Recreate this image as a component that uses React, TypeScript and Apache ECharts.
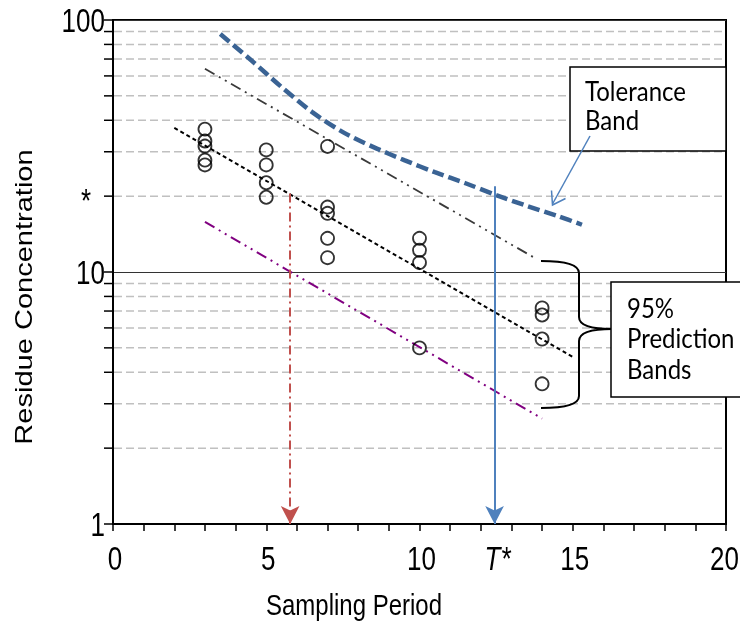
import React, { useEffect, useRef } from 'react';
import * as echarts from 'echarts';

// ---- data ----
const obsX = [3, 3, 3, 3, 3, 5, 5, 5, 5, 7, 7, 7, 7, 7, 10, 10, 10, 10, 14, 14, 14, 14];
const obsY = [36.9, 33.1, 31.6, 27.8, 26.6, 30.5, 26.6, 22.6, 19.8, 31.5, 18.1, 17.1, 13.6, 11.4, 13.6, 12.2, 10.9, 5.0, 7.2, 6.75, 5.42, 3.6];

const regX = [2, 15];
const regY = [37.3, 4.6];

const upperPIX = [3, 13.8];
const upperPIY = [64, 11.3];

const lowerPIX = [3, 14];
const lowerPIY = [15.8, 2.62];

const tolX = [3.5, 4.5, 5.5, 6.5, 7.5, 8.5, 9.5, 10.5, 11.5, 12.5, 13.5, 14.5, 15.3];
const tolY = [88.0, 69.4, 54.2, 43.1, 35.9, 31.3, 27.8, 24.9, 22.5, 20.2, 18.3, 16.7, 15.4];

const targetLevel = 20; // "*"
const redArrowX = 5.78;
const redArrowTop = 20.5;
const blueArrowX = 12.45; // T*
const blueArrowTop = 21.9;

const xLabelTicks = [0, 5, 10, 15, 20];
const yLabelTicks = [1, 10, 100];
const minorY = [2, 3, 4, 5, 6, 7, 8, 9, 20, 30, 40, 50, 60, 70, 80, 90];

echarts.graphic.registerShape(
  'brace',
  echarts.graphic.extendPath(
    'M0,0 Q38,0 38,12 L38,56 Q38,68 71,68 Q38,68 38,80 L38,135 Q38,147 0,147',
    {}
  )
);

const FONT = '"Liberation Sans", Arial, sans-serif';
const BOXFONT = 'Lato, "Noto Sans", sans-serif';
const STRETCH = 1.28;

export default function App() {
  const ref = useRef<HTMLDivElement>(null);
  useEffect(() => {
    document.body.style.margin = '0';
    const chart = echarts.init(ref.current!, null, { renderer: 'svg' });
    const pairs = (xs: number[], ys: number[]) => xs.map((x, i) => [x, ys[i]]);
    const option: any = {
      animation: false,
      grid: { left: 113, right: 14, top: 20, bottom: 99, show: true, borderColor: '#000', borderWidth: 2, backgroundColor: 'transparent' },
      xAxis: {
        type: 'value', min: 0, max: 20, interval: 1,
        axisLine: { show: true, lineStyle: { color: '#000', width: 2 } },
        axisTick: { show: true, inside: false, length: 7, lineStyle: { color: '#000', width: 1.5 } },
        axisLabel: { show: false },
        splitLine: { show: false },
      },
      yAxis: {
        type: 'log', logBase: 10, min: 1, max: 100,
        axisLine: { show: true, lineStyle: { color: '#000', width: 2 } },
        axisTick: { show: true, inside: false, length: 9, lineStyle: { color: '#000', width: 1.5 } },
        axisLabel: { show: false },
        splitLine: { show: true, lineStyle: { color: '#333', width: 1 } },
        minorTick: { show: false },
      },
      series: [
        {
          type: 'custom', z: 1, clip: false, silent: true,
          data: minorY.map((v) => [0, v]),
          renderItem: (params: any, api: any) => {
            const v = api.value(1);
            const p = api.coord([0, v]);
            const q = api.coord([20, v]);
            return {
              type: 'group',
              children: [
                { type: 'line', shape: { x1: p[0] + 1, y1: p[1], x2: q[0] - 1, y2: q[1] }, style: { stroke: '#c0c0c0', lineWidth: 1.5, lineDash: [8, 4] } },
                { type: 'line', shape: { x1: p[0] - 9, y1: p[1], x2: p[0], y2: p[1] }, style: { stroke: '#000', lineWidth: 1.5 } },
              ],
            };
          },
        },
        {
          type: 'line', z: 3, data: pairs(tolX, tolY), smooth: 0.3, symbol: 'none',
          lineStyle: { color: '#3a6394', width: 4.5, type: [12, 5] },
        },
        {
          type: 'line', z: 3, data: pairs(upperPIX, upperPIY), symbol: 'none',
          lineStyle: { color: '#3a3a3a', width: 1.8, type: [11, 5, 2, 5, 2, 5] },
        },
        {
          type: 'line', z: 3, data: pairs(lowerPIX, lowerPIY), symbol: 'none',
          lineStyle: { color: '#800080', width: 2, type: [11, 5, 2, 5, 2, 5] },
        },
        {
          type: 'line', z: 3, data: pairs(regX, regY), symbol: 'none',
          lineStyle: { color: '#000', width: 2, type: [4, 3] },
        },
        {
          type: 'scatter', z: 4, data: pairs(obsX, obsY), symbol: 'circle', symbolSize: 13,
          itemStyle: { color: 'transparent', borderColor: '#000', borderWidth: 1.8 },
          markLine: {
            silent: true, animation: false, label: { show: false },
            symbol: ['none', 'arrow'], symbolSize: [14, 18],
            data: [
              [
                { coord: [redArrowX, redArrowTop], lineStyle: { color: '#c0504d', width: 2, type: [9, 4, 2, 4] } },
                { coord: [redArrowX, 1] },
              ],
              [
                { coord: [blueArrowX, blueArrowTop], lineStyle: { color: '#4f81bd', width: 2, type: 'solid' } },
                { coord: [blueArrowX, 1] },
              ],
            ],
          },
        },
      ],
    };
    chart.setOption(option);

    const px = (x: number, y: number) => chart.convertToPixel({ gridIndex: 0 }, [x, y]) as number[];
    const txt = (text: string, x: number, y: number, font: string, align: string, extra: any = {}) => ({
      type: 'text', x, y, scaleY: STRETCH, ...extra,
      style: { text, font, fill: '#000', textAlign: align, textVerticalAlign: 'middle', align, verticalAlign: 'middle' },
    });

    const graphic: any[] = [];
    xLabelTicks.forEach((v) => {
      const p = px(v, 1);
      if (p[0] + 16 > 739) {
        graphic.push(txt(String(v), 739, p[1] + 34, `26px ${FONT}`, 'right'));
      } else {
        graphic.push(txt(String(v), p[0] + 2, p[1] + 34, `26px ${FONT}`, 'center'));
      }
    });
    yLabelTicks.forEach((v) => {
      const p = px(0, v);
      graphic.push(txt(String(v), p[0] - 8, p[1], `26px ${FONT}`, 'right'));
    });
    const star = px(0, targetLevel);
    graphic.push(txt('*', star[0] - 27, star[1] + 4, `26px ${FONT}`, 'center'));
    const tstar = px(blueArrowX, 1);
    graphic.push(txt('T*', tstar[0] + 3, tstar[1] + 34, `italic 26px ${FONT}`, 'center'));

    graphic.push({
      type: 'text', x: 24, y: 297, rotation: Math.PI / 2, scaleX: 1.21,
      style: { text: 'Residue Concentration', font: `24px ${FONT}`, fill: '#000', textAlign: 'center', textVerticalAlign: 'middle', align: 'center', verticalAlign: 'middle' },
    });
    graphic.push(txt('Sampling Period', 354, 605, `24px ${FONT}`, 'center', { scaleY: 1.2 }));

    // Tolerance box
    graphic.push({ type: 'rect', shape: { x: 570, y: 67, width: 156, height: 84 }, style: { fill: '#fff', stroke: '#000', lineWidth: 1.5 }, z: 10 });
    graphic.push({
      type: 'text', x: 585, y: 105, z: 11, scaleY: 1.1,
      style: { text: 'Tolerance\nBand', font: `24px ${BOXFONT}`, lineHeight: 27, fill: '#000', textVerticalAlign: 'middle', verticalAlign: 'middle' },
    });
    // the arrow from the tolerance box
    graphic.push({ type: 'line', shape: { x1: 590, y1: 136, x2: 552.5, y2: 204 }, style: { stroke: '#4f81bd', lineWidth: 1.5 }, z: 12 });
    graphic.push({ type: 'polyline', shape: { points: [[551.5, 190.5], [552.5, 205], [565.5, 198.5]] }, style: { stroke: '#4f81bd', lineWidth: 1.5, fill: 'none' }, z: 12 });
    // brace
    graphic.push({ type: 'brace', x: 541, y: 261, style: { stroke: '#000', fill: 'none', lineWidth: 2 }, z: 10 });
    // prediction box
    graphic.push({ type: 'rect', shape: { x: 611, y: 282, width: 140, height: 115 }, style: { fill: '#fff', stroke: '#000', lineWidth: 1.5 }, z: 10 });
    graphic.push({
      type: 'text', x: 627, y: 338, z: 11, scaleY: 1.1,
      style: { text: '95%\nPrediction\nBands', font: `24px ${BOXFONT}`, lineHeight: 27.7, fill: '#000', textVerticalAlign: 'middle', verticalAlign: 'middle' },
    });
    chart.setOption({ graphic });
    return () => chart.dispose();
  }, []);
  return <div ref={ref} style={{ position: 'fixed', left: 0, top: 0, width: 740, height: 623 }} />;
}
